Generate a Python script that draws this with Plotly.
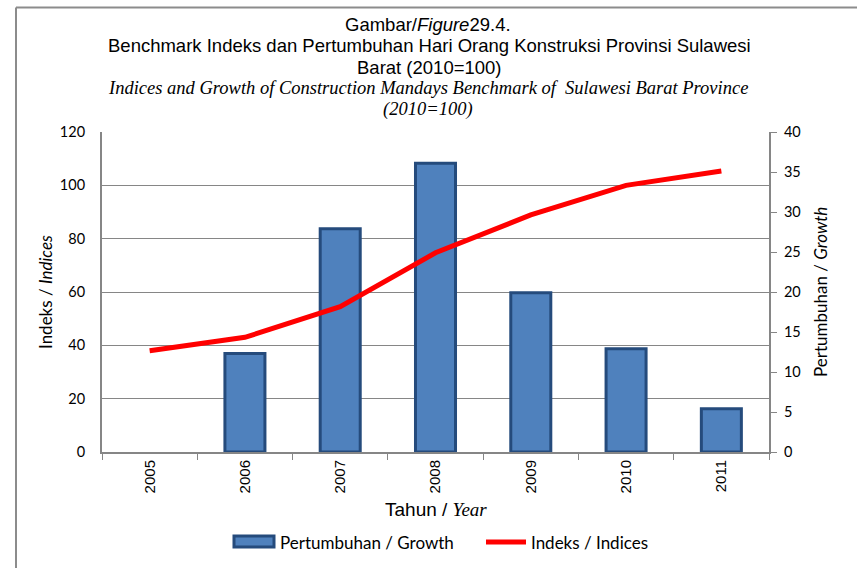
import plotly.graph_objects as go

# Data
years = ["2005", "2006", "2007", "2008", "2009", "2010", "2011"]
growth = [None, 12.3, 27.9, 36.1, 19.9, 12.9, 5.4]      # Pertumbuhan / Growth (right axis)
indices = [38.0, 43.0, 54.5, 74.7, 88.9, 100.0, 105.4]  # Indeks / Indices (left axis, 2010=100)

W, H = 857, 568
L, R, T, B = 102, 88, 132, 116
PW, PH = W - L - R, H - T - B


def px(x):
    return (x - L) / PW


def py(y):
    return (H - B - y) / PH


SANS = "Liberation Sans, Arial, sans-serif"
CAL = "Lato, Calibri, sans-serif"
SERIF = "Liberation Serif, Times New Roman, serif"
GRAY = "#868686"
BAR_FILL = "#4F81BD"
BAR_EDGE = "#254B7C"
RED = "#FF0000"

fig = go.Figure()

fig.add_trace(go.Bar(
    x=years, y=growth, name="Pertumbuhan / Growth",
    marker=dict(color=BAR_FILL, line=dict(color=BAR_EDGE, width=3)),
    width=0.42, yaxis="y", showlegend=False,
))
fig.add_trace(go.Scatter(
    x=years, y=indices, name="Indeks / Indices", mode="lines",
    line=dict(color=RED, width=5), yaxis="y2", showlegend=False,
))

annotations = [
    dict(text="Gambar/<i>Figure</i>29.4.", x=px(428), y=py(25), font=dict(family=SANS, size=18.5)),
    dict(text="Benchmark Indeks dan Pertumbuhan Hari Orang Konstruksi Provinsi Sulawesi",
         x=px(429), y=py(46), font=dict(family=SANS, size=18.5)),
    dict(text="Barat (2010=100)", x=px(429), y=py(67), font=dict(family=SANS, size=18.5)),
    dict(text="<i>Indices and Growth of Construction Mandays Benchmark of  Sulawesi Barat Province</i>",
         x=px(428), y=py(88), font=dict(family=SERIF, size=18.5)),
    dict(text="<i>(2010=100)</i>", x=px(428), y=py(110), font=dict(family=SERIF, size=18.5)),
    dict(text="Tahun / <i><span style='font-family:Liberation Serif'>Year</span></i>",
         x=px(436), y=py(509), font=dict(family=SANS, size=19)),
    dict(text="Indeks / <i>Indices</i>", x=px(45), y=0.5, textangle=-90,
         font=dict(family=CAL, size=17)),
    dict(text="Pertumbuhan / <i>Growth</i>", x=px(820), y=0.5, textangle=-90,
         font=dict(family=CAL, size=17)),
]
for a in annotations:
    a.update(xanchor="center")

# Legend entries
annotations += [
    dict(text="Pertumbuhan / Growth", x=px(278), y=py(542), xanchor="left",
         font=dict(family=CAL, size=17)),
    dict(text="Indeks / Indices", x=px(529), y=py(542), xanchor="left",
         font=dict(family=CAL, size=17)),
]
for a in annotations:
    a.update(xref="paper", yref="paper", showarrow=False, yanchor="middle")
    a["font"]["color"] = "#000000"

shapes = [
    # outer frame (left and top edges)
    dict(type="line", xref="paper", yref="paper", x0=px(16), x1=px(16), y0=py(H), y1=py(7.5),
         line=dict(color="#8c8c8c", width=2)),
    dict(type="line", xref="paper", yref="paper", x0=px(16), x1=px(W), y0=py(7.5), y1=py(7.5),
         line=dict(color="#8c8c8c", width=2)),
    # legend keys
    dict(type="rect", xref="paper", yref="paper", x0=px(234), x1=px(274), y0=py(547), y1=py(536),
         fillcolor=BAR_FILL, line=dict(color=BAR_EDGE, width=3)),
    dict(type="line", xref="paper", yref="paper", x0=px(486), x1=px(526), y0=py(542), y1=py(542),
         line=dict(color=RED, width=5)),
]

fig.update_layout(
    width=W, height=H,
    margin=dict(l=L, r=R, t=T, b=B),
    paper_bgcolor="white", plot_bgcolor="white",
    showlegend=False,
    xaxis=dict(
        type="category", range=[-0.5, 6.5], showline=True, linecolor=GRAY, linewidth=2,
        ticks="outside", tickson="boundaries", ticklen=6, tickcolor=GRAY, tickwidth=1,
        tickangle=-90, tickfont=dict(family=SANS, size=15, color="#000"), showgrid=False,
    ),
    yaxis=dict(
        side="right", range=[0, 40], dtick=5, showgrid=False, zeroline=False,
        showline=True, linecolor=GRAY, linewidth=2, ticks="outside", ticklen=6,
        tickcolor=GRAY, tickfont=dict(family=CAL, size=14.5, color="#000"),
        ticklabelstandoff=4,
    ),
    yaxis2=dict(
        overlaying="y", side="left", range=[0, 120], dtick=20, showgrid=True,
        gridcolor=GRAY, gridwidth=1, zeroline=False, showline=True, linecolor=GRAY,
        linewidth=2, ticks="", tickfont=dict(family=CAL, size=14.5, color="#000"),
        ticklabelstandoff=12,
    ),
    annotations=annotations,
    shapes=shapes,
)

fig.write_html("out.html")
